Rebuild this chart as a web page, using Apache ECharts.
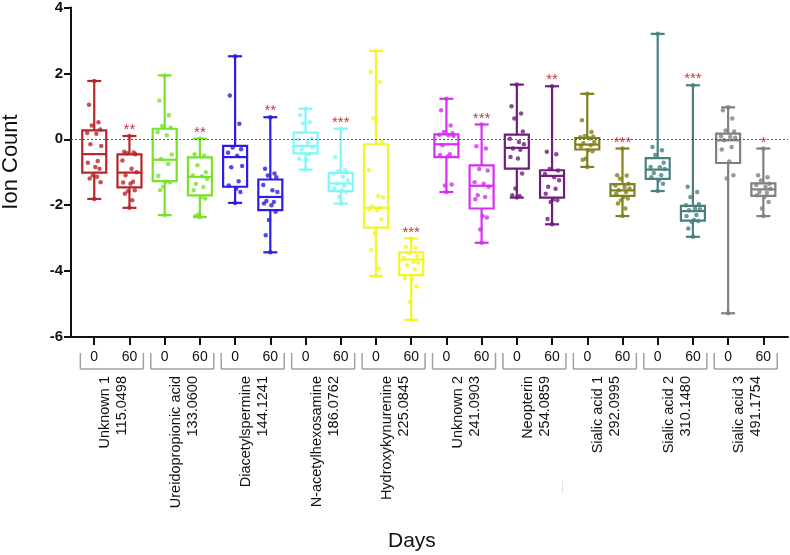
<!DOCTYPE html>
<html>
<head>
<meta charset="utf-8">
<title>Ion Count</title>
<style>
    html, body { margin: 0; padding: 0; background: #fff; }
    #main { width: 790px; height: 555px; }
</style>
</head>
<body>
<div id="main"></div>
<script src="https://cdn.jsdelivr.net/npm/echarts@6/dist/echarts.min.js"></script>
<script type="text/javascript">
// compounds (one pair of boxes each: day 0 and day 60)
var groupNames = ['Unknown 1', 'Ureidopropionic acid', 'Diacetylspermine', 'N-acetylhexosamine', 'Hydroxykynurenine',
    'Unknown 2', 'Neopterin', 'Sialic acid 1', 'Sialic acid 2', 'Sialic acid 3'];
var masses = ['115.0498', '133.0600', '144.1241', '186.0762', '225.0845',
    '241.0903', '254.0859', '292.0995', '310.1480', '491.1754'];
var days = ['0', '60'];
var colors = ['#b8262c', '#78e22a', '#2d1ce3', '#80f6f6', '#f4f42a',
    '#d62ef2', '#6f1d80', '#80801a', '#4a7f80', '#808080'];

// [min, Q1, median, Q3, max] for each box, left to right
var boxStats = [
    [-1.81, -1.01, -0.45, 0.27, 1.77],
    [-2.08, -1.46, -1.01, -0.46, 0.10],
    [-2.30, -1.27, -0.62, 0.32, 1.94],
    [-2.36, -1.70, -1.14, -0.55, 0.02],
    [-1.93, -1.44, -0.54, -0.20, 2.52],
    [-3.43, -2.15, -1.75, -1.22, 0.67],
    [-0.92, -0.43, -0.20, 0.20, 0.93],
    [-1.95, -1.57, -1.34, -1.02, 0.32],
    [-4.15, -2.68, -2.08, -0.15, 2.68],
    [-5.48, -4.12, -3.65, -3.43, -3.01],
    [-1.60, -0.54, -0.15, 0.15, 1.23],
    [-3.14, -2.10, -1.41, -0.79, 0.45],
    [-1.77, -0.89, -0.26, 0.14, 1.66],
    [-2.58, -1.77, -1.11, -0.94, 1.61],
    [-0.84, -0.31, -0.16, 0.04, 1.38],
    [-2.33, -1.72, -1.55, -1.36, -0.28],
    [-1.57, -1.20, -0.92, -0.57, 3.20],
    [-2.96, -2.47, -2.18, -2.02, 1.64],
    [-5.28, -0.72, -0.03, 0.17, 0.97],
    [-2.33, -1.72, -1.52, -1.34, -0.28]
];

// individual samples for each box
var points = [
    [1.77, 1.05, 0.52, 0.42, 0.30, 0.19, 0.17, -0.20, -0.15, -0.66, -0.71, -0.84, -0.89, -1.09, -1.19, -1.14, -1.30, -1.81],
    [0.10, -0.38, -0.40, -0.42, -0.45, -0.64, -0.89, -1.00, -1.09, -1.29, -1.31, -1.35, -1.55, -1.58, -1.65, -1.85, -2.08],
    [1.94, 1.18, 0.73, 0.40, 0.35, 0.22, 0.12, -0.46, -0.60, -0.75, -1.11, -1.28, -1.30, -1.44, -1.55, -2.30],
    [0.02, -0.45, -0.50, -0.79, -1.00, -1.10, -1.12, -1.20, -1.35, -1.45, -1.55, -1.75, -1.80, -2.28, -2.33, -2.36],
    [2.52, 1.33, 0.47, -0.25, -0.30, -0.41, -0.50, -0.81, -0.85, -1.27, -1.40, -1.50, -1.60, -1.93],
    [0.67, -0.89, -1.04, -1.10, -1.15, -1.39, -1.55, -1.60, -1.87, -1.90, -1.95, -2.00, -2.20, -2.45, -2.91, -3.43],
    [0.93, 0.73, 0.52, 0.48, 0.02, 0.00, -0.10, -0.25, -0.30, -0.45, -0.59, -0.62, -0.92],
    [0.32, -0.54, -0.94, -0.97, -1.00, -1.04, -1.14, -1.25, -1.34, -1.40, -1.49, -1.55, -1.60, -1.75, -1.95],
    [2.68, 2.04, 1.74, 0.63, -0.08, -0.94, -1.73, -1.76, -2.04, -2.08, -2.12, -2.15, -2.43, -2.86, -3.36, -3.92, -4.15],
    [-3.01, -3.26, -3.30, -3.45, -3.55, -3.60, -3.72, -3.75, -3.82, -3.95, -4.22, -4.25, -4.47, -4.93, -5.48],
    [1.23, 0.88, 0.42, 0.22, 0.18, 0.14, 0.12, 0.10, -0.18, -0.45, -0.48, -0.52, -1.37, -1.40, -1.60],
    [0.45, -0.21, -0.28, -0.90, -0.95, -1.30, -1.35, -1.44, -1.70, -1.75, -1.82, -2.33, -2.37, -2.74, -3.14],
    [1.66, 1.00, 0.78, 0.63, 0.24, 0.02, -0.08, -0.15, -0.28, -0.32, -0.54, -0.58, -1.04, -1.49, -1.70, -1.72, -1.77],
    [1.61, -0.38, -0.45, -0.90, -0.95, -1.05, -1.15, -1.24, -1.44, -1.50, -1.65, -1.83, -1.85, -1.90, -2.42, -2.58],
    [1.38, 0.58, 0.22, 0.10, 0.08, 0.06, 0.03, -0.08, -0.12, -0.18, -0.22, -0.33, -0.36, -0.59, -0.62, -0.84],
    [-0.28, -1.09, -1.10, -1.20, -1.35, -1.40, -1.45, -1.50, -1.55, -1.60, -1.65, -1.75, -1.80, -1.85, -1.95, -2.10, -2.33],
    [3.20, -0.23, -0.33, -0.48, -0.71, -0.84, -0.85, -0.90, -1.02, -1.09, -1.15, -1.24, -1.35, -1.57],
    [1.64, -1.44, -1.60, -1.75, -1.97, -2.00, -2.10, -2.12, -2.15, -2.30, -2.33, -2.45, -2.48, -2.50, -2.71, -2.96],
    [0.97, 0.88, 0.63, 0.27, 0.24, 0.09, 0.07, 0.05, -0.03, -0.23, -0.31, -0.67, -1.09, -1.19, -5.28],
    [-0.28, -1.09, -1.15, -1.25, -1.35, -1.39, -1.45, -1.50, -1.60, -1.62, -1.70, -1.75, -1.90, -2.10, -2.33]
];

// significance marks over the day-60 boxes
var stars = ['', '**', '', '**', '', '**', '', '***', '', '***', '', '***', '', '**', '', '***', '', '***', '', '*'];

// horizontal spread of the dots (in box units)
var jitter = [0, -0.15, 0.12, -0.07, 0.17, -0.2, 0.06, 0.2, -0.11, 0.1, -0.18, 0.03, 0.15, -0.04, -0.13, 0.08, 0.18, -0.09];

var FONT = 'Liberation Sans, Arial, sans-serif';

var boxData = [], dotData = [], tickVals = [], groupData = [];
for (var i = 0; i < boxStats.length; i++) {
    boxData.push([i].concat(boxStats[i]));
    tickVals.push(i);
    for (var j = 0; j < points[i].length; j++) {
        var v = points[i][j];
        var isEnd = (v === boxStats[i][0] || v === boxStats[i][4]);
        dotData.push({
            value: [i + (isEnd ? 0 : jitter[j % jitter.length]), v],
            itemStyle: { color: colors[Math.floor(i / 2)] }
        });
    }
}
for (var g = 0; g < groupNames.length; g++) groupData.push([g * 2 + 0.5, -6]);

function renderBox(params, api) {
    var i = api.value(0);
    var c = colors[Math.floor(i / 2)];
    var cx = api.coord([i, 0])[0];
    var yMin = api.coord([i, api.value(1)])[1];
    var yQ1 = api.coord([i, api.value(2)])[1];
    var yMed = api.coord([i, api.value(3)])[1];
    var yQ3 = api.coord([i, api.value(4)])[1];
    var yMax = api.coord([i, api.value(5)])[1];
    var hw = 12, cw = 7;
    var st = { stroke: c, lineWidth: 2.2, fill: null };
    var kids = [
        { type: 'line', shape: { x1: cx, y1: yMax, x2: cx, y2: yQ3 }, style: st },
        { type: 'line', shape: { x1: cx, y1: yQ1, x2: cx, y2: yMin }, style: st },
        { type: 'line', shape: { x1: cx - cw, y1: yMax, x2: cx + cw, y2: yMax }, style: st },
        { type: 'line', shape: { x1: cx - cw, y1: yMin, x2: cx + cw, y2: yMin }, style: st },
        { type: 'rect', shape: { x: cx - hw, y: yQ3, width: hw * 2, height: yQ1 - yQ3 }, style: { stroke: c, lineWidth: 2.2, fill: 'rgba(255,255,255,0)' } },
        { type: 'line', shape: { x1: cx - hw, y1: yMed, x2: cx + hw, y2: yMed }, style: st }
    ];
    if (stars[i]) {
        kids.push({
            type: 'text', x: cx, y: yMax - 6,
            style: { text: stars[i], fill: '#c4393c', font: '15px ' + FONT, align: 'center', verticalAlign: 'middle' }
        });
    }
    return { type: 'group', children: kids };
}

function renderGroup(params, api) {
    var g = params.dataIndex;
    var p = api.coord([api.value(0), api.value(1)]);
    var cx = p[0], y0 = p[1];
    var half = 31.5;
    var ls = { stroke: '#a0a0a0', lineWidth: 1.5 };
    return {
        type: 'group',
        children: [
            { type: 'line', shape: { x1: cx - half, y1: y0 + 32, x2: cx + half, y2: y0 + 32 }, style: ls },
            { type: 'line', shape: { x1: cx - half, y1: y0 + 16, x2: cx - half, y2: y0 + 32 }, style: ls },
            { type: 'line', shape: { x1: cx + half, y1: y0 + 16, x2: cx + half, y2: y0 + 32 }, style: ls },
            {
                type: 'text', x: cx + 2, y: y0 + 39, rotation: Math.PI / 2,
                style: {
                    text: groupNames[g] + '\n' + masses[g], fill: '#111', font: '14.5px ' + FONT,
                    align: 'right', verticalAlign: 'middle', lineHeight: 17
                }
            }
        ]
    };
}

var chart = echarts.init(document.getElementById('main'));
var option = {
    backgroundColor: '#fff',
    animation: false,
    title: {
        text: 'Days', left: 383, top: 526,
        textStyle: { fontFamily: FONT, fontSize: 21, fontWeight: 'normal', color: '#111' }
    },
    grid: { left: 71, right: 2, top: 7, bottom: 218 },
    xAxis: {
        type: 'value', min: -0.66, max: 19.7,
        axisLine: { onZero: false, lineStyle: { color: '#111', width: 2 } },
        axisTick: { customValues: tickVals, length: 8, lineStyle: { color: '#111', width: 2 } },
        axisLabel: {
            customValues: tickVals, margin: 13, color: '#111', fontFamily: FONT, fontSize: 14,
            formatter: function (v) { return days[Math.round(v) % 2]; }
        },
        splitLine: { show: false }
    },
    yAxis: {
        type: 'value', min: -6, max: 4, interval: 2,
        axisLine: { show: true, onZero: false, lineStyle: { color: '#111', width: 2 } },
        axisTick: { show: true, length: 7, lineStyle: { color: '#111', width: 2 } },
        axisLabel: { margin: 8, color: '#111', fontFamily: FONT, fontSize: 15, fontWeight: 'bold' },
        splitLine: { show: false }
    },
    graphic: [
        {
            type: 'text', x: 11, y: 162, rotation: Math.PI / 2,
            style: { text: 'Ion Count', fill: '#111', font: '22px ' + FONT, align: 'center', verticalAlign: 'middle' }
        },
        { type: 'line', shape: { x1: 562.5, y1: 480, x2: 562.5, y2: 494 }, style: { stroke: '#e2e2e2', lineWidth: 1 } }
    ],
    series: [
        {
            type: 'custom', name: 'box', renderItem: renderBox, data: boxData, clip: false,
            encode: { x: 0, y: [1, 2, 3, 4, 5] }, z: 2,
            markLine: {
                silent: true, symbol: 'none', label: { show: false },
                lineStyle: { color: '#555', type: [2, 2], width: 1 },
                data: [{ yAxis: 0 }]
            }
        },
        {
            type: 'scatter', name: 'samples', data: dotData, symbolSize: 4.5, z: 3
        },
        {
            type: 'custom', name: 'groups', renderItem: renderGroup, data: groupData, clip: false,
            encode: { x: 0, y: 1 }, silent: true
        }
    ]
};
chart.setOption(option);
</script>
</body>
</html>
